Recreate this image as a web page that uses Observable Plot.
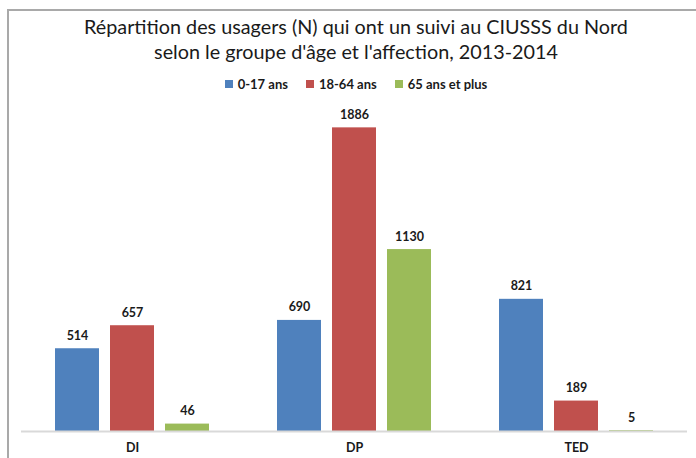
<!DOCTYPE html>
<html>
<head>
<meta charset="utf-8">
<script src="https://cdn.jsdelivr.net/npm/d3@7"></script>
<script src="https://cdn.jsdelivr.net/npm/@observablehq/plot@0.6"></script>
<style>
  body { margin: 0; background: #fff; width: 696px; height: 458px; overflow: hidden; position: relative; }
  #frame { position: absolute; left: 7px; top: 9px; width: 700px; height: 460px; border-top: 2px solid #a9a9a9; border-left: 2px solid #a9a9a9; }
  #title { position: absolute; top: 14px; left: 7px; width: 698px; text-align: center; font-family: Lato, sans-serif; font-size: 19.8px; line-height: 25px; color: #1a1a1a; white-space: nowrap; }
  #legend { position: absolute; top: 76px; left: 7px; width: 698px; display: flex; justify-content: center; gap: 18px; font-family: Lato, sans-serif; font-size: 13px; font-weight: bold; color: #1a1a1a; white-space: nowrap; }
  #legend span.sw { display: inline-block; width: 8px; height: 8px; margin-right: 5px; vertical-align: 1px; }
  #chart { position: absolute; top: 95px; left: 0; }
</style>
</head>
<body>
<div id="frame"></div>
<div id="title">Répartition des usagers (N) qui ont un suivi au CIUSSS du Nord<br>selon le groupe d'âge et l'affection, 2013-2014</div>
<div id="legend"></div>
<div id="chart"></div>
<script>
const categories = ["DI", "DP", "TED"];
const groups = ["0-17 ans", "18-64 ans", "65 ans et plus"];
const values0_17 = [514, 690, 821];
const values18_64 = [657, 1886, 189];
const values65plus = [46, 1130, 5];
const colors = ["#4f81bd", "#c0504d", "#9bbb59"];

const series = [values0_17, values18_64, values65plus];
const data = [];
categories.forEach((c, i) => {
  groups.forEach((g, j) => data.push({cat: c, grp: g, value: series[j][i]}));
});

const legend = document.getElementById("legend");
groups.forEach((g, j) => {
  const item = document.createElement("div");
  item.innerHTML = `<span class="sw" style="background:${colors[j]}"></span>${g}`;
  legend.appendChild(item);
});

const chart = Plot.plot({
  width: 696,
  height: 363,
  marginTop: 14,
  marginBottom: 27,
  marginLeft: 20,
  marginRight: 8,
  style: {fontFamily: "Lato, sans-serif", fontSize: "12.5px", fontWeight: "bold", color: "#1a1a1a", background: "transparent"},
  fx: {domain: categories, padding: 0, label: null, tickSize: 0, tickPadding: 12},
  x: {domain: groups, axis: null, paddingInner: 0.2, paddingOuter: 0.59},
  y: {domain: [0, 2000], axis: null},
  color: {domain: groups, range: colors},
  marks: [
    Plot.barY(data, {fx: "cat", x: "grp", y: "value", fill: "grp"}),
    Plot.ruleY([0], {stroke: "#d9d9d9", strokeWidth: 2}),
    Plot.text(data, {fx: "cat", x: "grp", y: "value", text: d => String(d.value), dy: -13, fill: "#1a1a1a"})
  ]
});
document.getElementById("chart").appendChild(chart);
</script>
</body>
</html>
